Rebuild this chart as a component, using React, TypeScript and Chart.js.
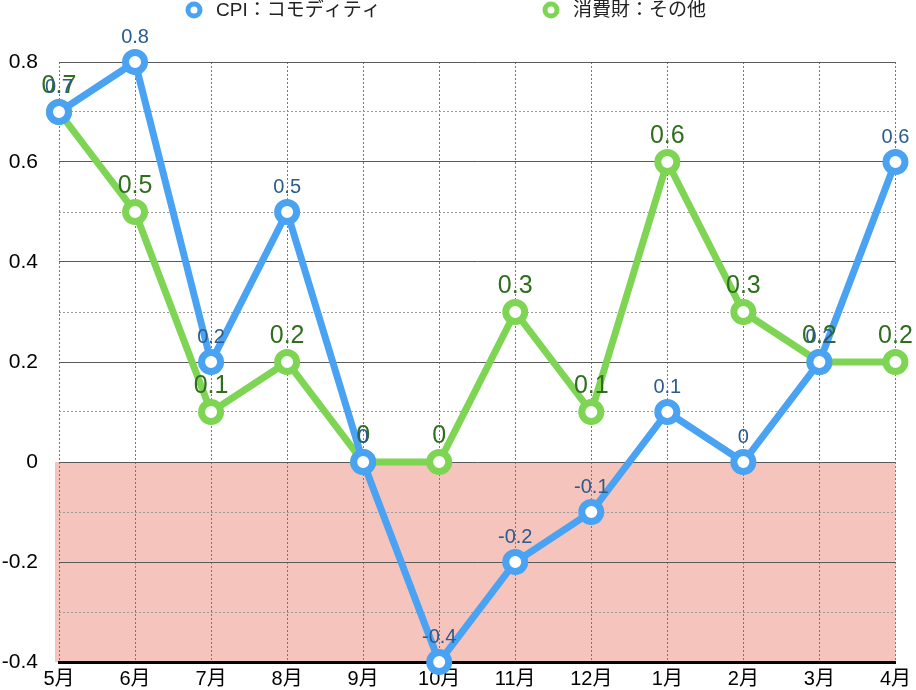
import React, { useEffect, useRef } from "react";
import { Chart, registerables } from "chart.js";

Chart.register(...registerables);

// ---- data ----
const months = ["5月", "6月", "7月", "8月", "9月", "10月", "11月", "12月", "1月", "2月", "3月", "4月"];
const cpiCommodity = [0.7, 0.8, 0.2, 0.5, 0, -0.4, -0.2, -0.1, 0.1, 0, 0.2, 0.6];
const consumerOther = [0.7, 0.5, 0.1, 0.2, 0, 0, 0.3, 0.1, 0.6, 0.3, 0.2, 0.2];
const seriesNames = ["CPI：コモディティ", "消費財：その他"];
const yMin = -0.4;
const yMax = 0.8;
const yStep = 0.1;

// ---- styles ----
const FONT = '"Liberation Sans", "Noto Sans CJK JP", sans-serif';
const BLUE = "#4aa2f2";
const GREEN = "#7ed553";
const BLUE_LABEL = "#2a5b8c";
const GREEN_LABEL = "#2f6e1e";
const PINK = "#f5c4bc";

const isMajor = (v: number) => Math.round(v * 10) % 2 === 0;

const negativeBand = {
  id: "negativeBand",
  beforeDraw(chart: any) {
    const { ctx, chartArea, scales } = chart;
    const y = scales.y;
    const top = y.getPixelForValue(0);
    const bottom = y.getPixelForValue(yMin);
    ctx.save();
    ctx.fillStyle = PINK;
    ctx.fillRect(chartArea.left - 4, top, chartArea.right - chartArea.left + 4, bottom - top);
    ctx.restore();
  },
};

const valueLabels = {
  id: "valueLabels",
  afterDatasetsDraw(chart: any) {
    const { ctx } = chart;
    const styles = [
      { color: BLUE_LABEL, size: 20 },
      { color: GREEN_LABEL, size: 25 },
    ];
    [1, 0].forEach((di) => {
      const meta = chart.getDatasetMeta(di);
      const ds = chart.data.datasets[di];
      ctx.save();
      ctx.fillStyle = styles[di].color;
      ctx.font = `${styles[di].size}px ${FONT}`;
      ctx.textAlign = "center";
      ctx.textBaseline = "alphabetic";
      meta.data.forEach((pt: any, j: number) => {
        ctx.fillText(String(ds.data[j]), pt.x, pt.y - 19);
      });
      ctx.restore();
    });
  },
};

const customLegend = {
  id: "customLegend",
  afterDraw(chart: any) {
    const { ctx } = chart;
    const items = [
      { x: 194, color: BLUE, text: seriesNames[0] },
      { x: 551, color: GREEN, text: seriesNames[1] },
    ];
    items.forEach((it) => {
      ctx.save();
      ctx.beginPath();
      ctx.arc(it.x, 10, 6, 0, Math.PI * 2);
      ctx.fillStyle = "#fff";
      ctx.fill();
      ctx.lineWidth = 5;
      ctx.strokeStyle = it.color;
      ctx.stroke();
      ctx.fillStyle = "#222";
      ctx.font = `19px ${FONT}`;
      ctx.textAlign = "left";
      ctx.textBaseline = "middle";
      ctx.fillText(it.text, it.x + 22, 11);
      ctx.restore();
    });
  },
};

export default function App() {
  const ref = useRef<HTMLCanvasElement>(null);

  useEffect(() => {
    document.body.style.margin = "0";
    const mk = (label: string, data: number[], color: string) => ({
      label,
      data,
      borderColor: color,
      backgroundColor: color,
      borderWidth: 7,
      pointRadius: 9.5,
      pointHoverRadius: 9.5,
      pointBorderWidth: 7,
      pointBackgroundColor: "#fff",
      pointBorderColor: color,
      tension: 0,
      clip: false as any,
    });
    const chart = new Chart(ref.current!, {
      type: "line",
      data: {
        labels: months,
        datasets: [mk(seriesNames[0], cpiCommodity, BLUE), mk(seriesNames[1], consumerOther, GREEN)],
      },
      options: {
        responsive: false,
        animation: false,
        layout: { padding: { top: 62, right: 19, left: 0, bottom: 0 } },
        plugins: {
          legend: { display: false },
          tooltip: { enabled: false },
        },
        scales: {
          x: {
            offset: false,
            afterFit: (s: any) => {
              s.height = 28;
            },
            ticks: {
              padding: 5,
              color: "#000",
              font: { size: 20, family: FONT },
              maxRotation: 0,
              autoSkip: false,
            },
            grid: { color: "#777", lineWidth: 1, drawTicks: false },
            border: { display: true, color: "#000", width: 3, dash: [2, 2] },
          },
          y: {
            min: yMin,
            max: yMax,
            afterFit: (s: any) => {
              s.width = 59;
              s.paddingTop = 0;
              s.paddingBottom = 0;
            },
            ticks: {
              stepSize: yStep,
              autoSkip: false,
              padding: 21,
              color: "#000",
              font: { size: 21, family: FONT },
              callback: (v: any) => {
                const k = Math.round(Number(v) * 10);
                return k % 2 === 0 ? String(k / 10) : "";
              },
            },
            grid: {
              color: (c: any) => (c.tick && isMajor(c.tick.value) ? "#5a5a5a" : "#9a9a9a"),
              lineWidth: 1,
              drawTicks: false,
            },
            border: {
              display: false,
              dash: (c: any) => (c.tick && !isMajor(c.tick.value) ? [2, 2] : []),
            },
          },
        },
      },
      plugins: [negativeBand, valueLabels, customLegend],
    });
    return () => chart.destroy();
  }, []);

  return (
    <div style={{ width: 916, height: 690 }}>
      <canvas ref={ref} width={916} height={690} />
    </div>
  );
}
